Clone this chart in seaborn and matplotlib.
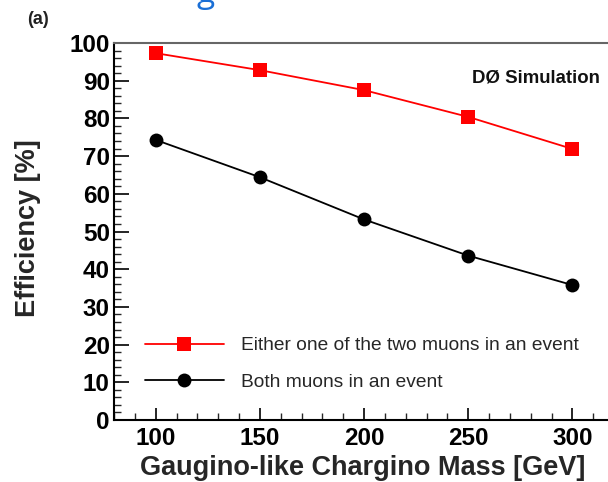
import matplotlib
matplotlib.use("Agg")
import matplotlib.pyplot as plt
import seaborn as sns
import pandas as pd
from matplotlib.ticker import MultipleLocator
from matplotlib.lines import Line2D

# Chargino masses [GeV] and muon efficiencies [%]
mass = [100, 150, 200, 250, 300]
eff_either = [97.3, 92.8, 87.5, 80.4, 71.9]
eff_both = [74.3, 64.4, 53.2, 43.6, 35.8]
label_either = "Either one of the two muons in an event"
label_both = "Both muons in an event"

sns.set_theme(style="ticks")
plt.rcParams["font.family"] = ["Liberation Sans", "DejaVu Sans"]

df = pd.DataFrame({
    "mass": mass * 2,
    "eff": eff_either + eff_both,
    "sel": [label_either] * len(mass) + [label_both] * len(mass),
})

fig = plt.figure(figsize=(6.08, 4.82), dpi=100)
ax = fig.add_axes([0.1875, 0.1286, 0.8225, 0.7822])

sns.lineplot(data=df, x="mass", y="eff", hue="sel", style="sel",
             palette={label_either: "#ff0000", label_both: "black"},
             markers={label_either: "s", label_both: "o"}, dashes=False,
             markersize=10, markeredgewidth=0, linewidth=1.3, ax=ax,
             legend=False)

ax.set_xlim(80, 320)
ax.set_ylim(0, 100)
ax.xaxis.set_major_locator(MultipleLocator(50))
ax.xaxis.set_minor_locator(MultipleLocator(10))
ax.yaxis.set_major_locator(MultipleLocator(10))
ax.yaxis.set_minor_locator(MultipleLocator(2))
ax.tick_params(axis="both", which="major", direction="in", width=1.2,
               labelsize=17.5, colors="black")
ax.tick_params(axis="y", which="major", length=11, pad=3)
ax.tick_params(axis="x", which="major", length=9, pad=5)
ax.tick_params(axis="both", which="minor", direction="in", width=1.0, length=5)
for lab in ax.get_xticklabels() + ax.get_yticklabels():
    lab.set_fontweight("bold")

for side in ["left", "bottom"]:
    ax.spines[side].set_linewidth(1.5)
    ax.spines[side].set_color("black")
ax.spines["top"].set_visible(True)
ax.spines["top"].set_color("#666666")
ax.spines["top"].set_linewidth(1.5)
ax.spines["right"].set_visible(True)

ax.set_xlabel("Gaugino-like Chargino Mass [GeV]", fontsize=19.5,
              fontweight="bold")
ax.set_ylabel("Efficiency [%]", fontsize=19.5, fontweight="bold")
ax.xaxis.set_label_coords(0.498, -0.094)
ax.yaxis.set_label_coords(-0.146, 0.51)

handles = [
    Line2D([], [], color="#ff0000", marker="s", markersize=10,
           markeredgewidth=0, linewidth=1.3),
    Line2D([], [], color="black", marker="o", markersize=10,
           markeredgewidth=0, linewidth=1.3),
]
ax.legend(handles, [label_either, label_both], loc="upper left",
          bbox_to_anchor=(145 / 608, 1 - 337 / 482),
          bbox_transform=fig.transFigure, frameon=False, fontsize=13.8,
          handlelength=4.1, handletextpad=0.9, labelspacing=0.98,
          borderpad=0, borderaxespad=0)

fig.text(600 / 608, 1 - 78 / 482, "D\u00d8 Simulation", ha="right",
         va="center", fontsize=13.4, fontweight="bold", color="#111111")
fig.text(38 / 608, 1 - 20 / 482, "(a)", ha="center", va="center",
         fontsize=13, fontweight="bold", color="#222222")
fig.text(206 / 608, 1 - 2 / 482, "g", ha="center", va="baseline",
         fontsize=24, color="#1a6fd6", family="Open Sans")

fig.savefig("out.png", dpi=100)
